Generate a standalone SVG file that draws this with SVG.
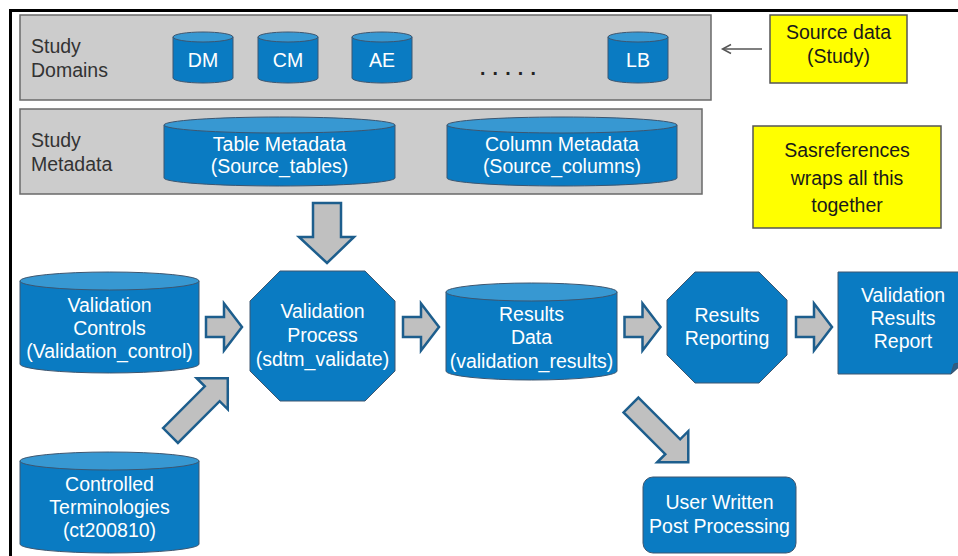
<svg xmlns="http://www.w3.org/2000/svg" width="958" height="556" viewBox="0 0 958 556">
  <style>
    text { font-family: "Liberation Sans", Arial, sans-serif; font-size: 19.5px; }
    .w { fill: #ffffff; text-anchor: middle; }
    .k { fill: #1a1a1a; text-anchor: middle; }
    .lbl { fill: #333333; }
    .panel { fill: #cccccc; stroke: #6a6a6a; stroke-width: 1.5; }
    .note { fill: #ffff00; stroke: #555555; stroke-width: 1.5; }
    .body { fill: #0a7bc2; stroke: #3d5670; stroke-width: 1; }
    .lid { fill: #3798d2; stroke: #3d5670; stroke-width: 1; }
    .blk { fill: #0a7bc2; stroke: #3d5670; stroke-width: 1; }
    .arrow { fill: #c0c0c0; stroke: #1d5e8d; stroke-width: 2.5; stroke-linejoin: miter; }
  </style>
  <defs>
    <!-- block arrow pointing right, origin at tail centre -->
    <path id="rarrow" d="M0,-10 H18 V-23.5 L36,0 L18,23.5 V10 H0 Z"/>
    <path id="darrow" d="M0,-10.5 H59 V-22 L81,0 L59,22 V10.5 H0 Z"/>
  </defs>

  <!-- page frame -->
  <rect x="10.5" y="10.5" width="970" height="570" fill="#ffffff" stroke="#000000" stroke-width="3"/>

  <!-- Study Domains panel -->
  <g id="study-domains">
    <rect class="panel" x="20" y="15" width="691" height="85"/>
    <text class="lbl" x="31" y="53">Study</text>
    <text class="lbl" x="31" y="77">Domains</text>
    <text x="480" y="75" fill="#222222" font-weight="bold" letter-spacing="7.2">.....</text>
  </g>
  <g id="dm">
    <path class="body" d="M173,37 V78 A30,5 0 0 0 233,78 V37 Z"/>
    <ellipse class="lid" cx="203" cy="37" rx="30" ry="5"/>
    <text class="w" x="203" y="67">DM</text>
  </g>
  <g id="cm">
    <path class="body" d="M258,37 V78 A30,5 0 0 0 318,78 V37 Z"/>
    <ellipse class="lid" cx="288" cy="37" rx="30" ry="5"/>
    <text class="w" x="288" y="67">CM</text>
  </g>
  <g id="ae">
    <path class="body" d="M352,37 V78 A30,5 0 0 0 412,78 V37 Z"/>
    <ellipse class="lid" cx="382" cy="37" rx="30" ry="5"/>
    <text class="w" x="382" y="67">AE</text>
  </g>
  <g id="lb">
    <path class="body" d="M608,37 V78 A30,5 0 0 0 668,78 V37 Z"/>
    <ellipse class="lid" cx="638" cy="37" rx="30" ry="5"/>
    <text class="w" x="638" y="67">LB</text>
  </g>

  <!-- Study Metadata panel -->
  <g id="study-metadata">
    <rect class="panel" x="20" y="109" width="682" height="85"/>
    <text class="lbl" x="31" y="147">Study</text>
    <text class="lbl" x="31" y="171">Metadata</text>
  </g>
  <g id="table-metadata">
    <path class="body" d="M164,125 V178 A115.5,8 0 0 0 395,178 V125 Z"/>
    <ellipse class="lid" cx="279.5" cy="125" rx="115.5" ry="8"/>
    <text class="w" x="279.5" y="151">Table Metadata</text>
    <text class="w" x="279.5" y="173">(Source_tables)</text>
  </g>
  <g id="column-metadata">
    <path class="body" d="M447,125 V178 A115,8 0 0 0 677,178 V125 Z"/>
    <ellipse class="lid" cx="562" cy="125" rx="115" ry="8"/>
    <text class="w" x="562" y="151">Column Metadata</text>
    <text class="w" x="562" y="173">(Source_columns)</text>
  </g>

  <!-- notes -->
  <g id="source-data-note">
    <rect class="note" x="770" y="15" width="137" height="68"/>
    <text class="k" x="838.5" y="39">Source data</text>
    <text class="k" x="838.5" y="63">(Study)</text>
  </g>
  <g id="sasreferences-note">
    <rect class="note" x="753" y="126" width="188" height="102"/>
    <text class="k" x="847" y="157">Sasreferences</text>
    <text class="k" x="847" y="184.5">wraps all this</text>
    <text class="k" x="847" y="212">together</text>
  </g>

  <!-- process row -->
  <g id="validation-controls">
    <path class="body" d="M20,281 V364 A89.5,9 0 0 0 199,364 V281 Z"/>
    <ellipse class="lid" cx="109.5" cy="281" rx="89.5" ry="9"/>
    <text class="w" x="109.5" y="312">Validation</text>
    <text class="w" x="109.5" y="335">Controls</text>
    <text class="w" x="109.5" y="358">(Validation_control)</text>
  </g>
  <g id="validation-process">
    <polygon class="blk" points="280,271 365,271 395,301 395,371 365,401 280,401 250,371 250,301"/>
    <text class="w" x="322.5" y="318">Validation</text>
    <text class="w" x="322.5" y="342">Process</text>
    <text class="w" x="322.5" y="366">(sdtm_validate)</text>
  </g>
  <g id="results-data">
    <path class="body" d="M446,292 V371 A85.5,9 0 0 0 617,371 V292 Z"/>
    <ellipse class="lid" cx="531.5" cy="292" rx="85.5" ry="9"/>
    <text class="w" x="531.5" y="320.5">Results</text>
    <text class="w" x="531.5" y="344">Data</text>
    <text class="w" x="531.5" y="367.5">(validation_results)</text>
  </g>
  <g id="results-reporting">
    <polygon class="blk" points="695,272 759,272 787,300 787,355 759,383 695,383 667,355 667,300"/>
    <text class="w" x="727" y="322">Results</text>
    <text class="w" x="727" y="345">Reporting</text>
  </g>
  <g id="validation-results-report">
    <path class="blk" d="M838,272 H964 V362 L951,374 H838 Z"/>
    <polygon points="951,374 954,364 964,362" fill="#2a5f8a" stroke="#3d5670" stroke-width="1"/>
    <text class="w" x="903" y="302">Validation</text>
    <text class="w" x="903" y="325">Results</text>
    <text class="w" x="903" y="348">Report</text>
  </g>
  <g id="controlled-terminologies">
    <path class="body" d="M20,461 V544 A89.5,9 0 0 0 199,544 V461 Z"/>
    <ellipse class="lid" cx="109.5" cy="461" rx="89.5" ry="9"/>
    <text class="w" x="109.5" y="491">Controlled</text>
    <text class="w" x="109.5" y="514">Terminologies</text>
    <text class="w" x="109.5" y="537">(ct200810)</text>
  </g>
  <g id="user-written">
    <rect class="blk" x="643" y="477" width="153" height="76" rx="10"/>
    <text class="w" x="719.5" y="509">User Written</text>
    <text class="w" x="719.5" y="533">Post Processing</text>
  </g>

  <!-- connectors -->
  <g id="connectors">
    <line x1="762" y1="49" x2="723" y2="49" stroke="#555555" stroke-width="1.5"/>
    <polyline points="731,44.5 722.5,49 731,53.5" fill="none" stroke="#555555" stroke-width="1.5"/>
    <path class="arrow" d="M313,203 H341 V237 H354 L327,263 L299,237 H313 Z"/>
    <use class="arrow" href="#rarrow" transform="translate(206,327)"/>
    <use class="arrow" href="#rarrow" transform="translate(403,327)"/>
    <use class="arrow" href="#rarrow" transform="translate(624.5,327)"/>
    <use class="arrow" href="#rarrow" transform="translate(796,327)"/>
    <use class="arrow" href="#darrow" transform="translate(170.5,435.5) rotate(-45)"/>
    <use class="arrow" href="#darrow" transform="translate(631,405) rotate(45)"/>
  </g>
</svg>
